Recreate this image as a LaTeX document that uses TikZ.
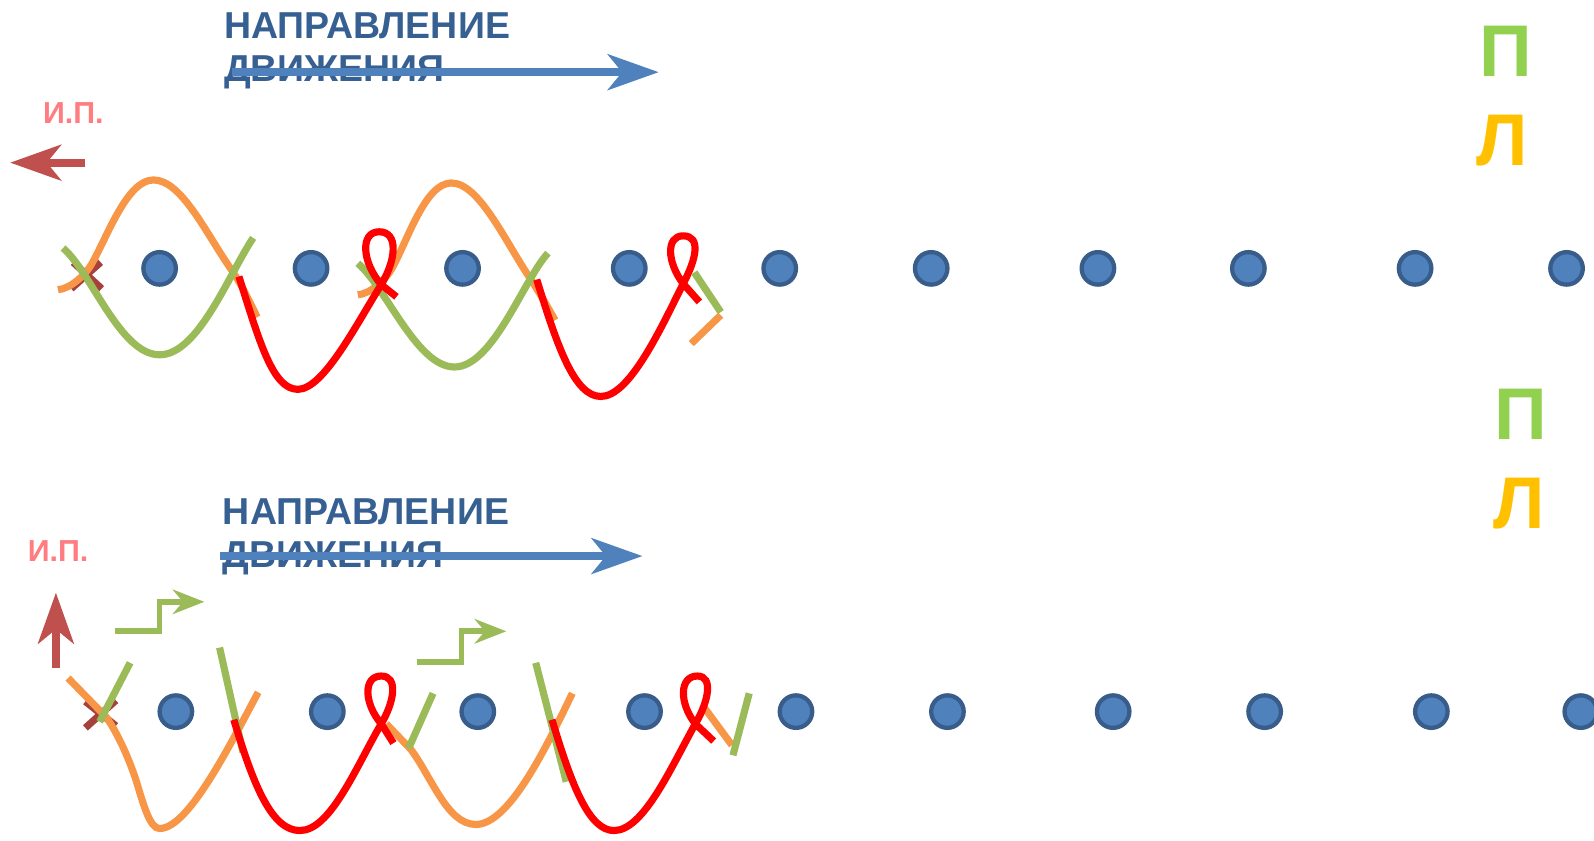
\documentclass[tikz,border=0pt]{standalone}
\usepackage{fontspec}
\setmainfont{Liberation Sans}
\usetikzlibrary{arrows.meta}

\definecolor{dotfill}{HTML}{4F81BD}
\definecolor{dotline}{HTML}{385D8A}
\definecolor{wavor}{HTML}{F79646}
\definecolor{wavgr}{HTML}{9BBB59}
\definecolor{wavred}{HTML}{FF0000}
\definecolor{dirblue}{HTML}{376092}
\definecolor{arrblue}{HTML}{4F81BD}
\definecolor{ippink}{HTML}{FF7C80}
\definecolor{arrred}{HTML}{C0504D}
\definecolor{crossred}{HTML}{A5403C}
\definecolor{letgr}{HTML}{92D050}
\definecolor{letor}{HTML}{FFC000}

\begin{document}
\begin{tikzpicture}[x=0.02cm, y=-0.02cm,
    dot/.style={circle, fill=dotfill, draw=dotline, line width=2.4pt, minimum size=0.64cm, inner sep=0pt},
    wave/.style={line width=4pt},
    dirtext/.style={anchor=north west, inner sep=0pt, align=left, text=dirblue,
      font=\fontsize{21}{24}\selectfont\bfseries},
    iptext/.style={anchor=base west, inner sep=0pt, text=ippink, font=\fontsize{17}{19}\selectfont\bfseries},
    bigletter/.style={anchor=base, inner sep=0pt, font=\fontsize{41}{44}\selectfont\bfseries},
    bigarrow/.style={line width=4.6pt, -{Stealth[length=1cm, width=0.7cm, inset=0.28cm]}},
    steparrow/.style={wavgr, line width=3.2pt, -{Stealth[length=0.62cm, width=0.48cm, inset=0.2cm]}}]
  \useasboundingbox (0,0) rectangle (1568,827);

  % direction labels and arrows
  \node[dirtext] (dirtop) at (220,12) {НАПРАВЛЕНИЕ\\ДВИЖЕНИЯ};
  \draw[bigarrow, arrblue] (228,71) -- (648,71);
  \node[dirtext] (dirbot) at (219,490) {НАПРАВЛЕНИЕ\\ДВИЖЕНИЯ};
  \draw[bigarrow, arrblue] (216,547) -- (632,547);

  % starting position
  \node[iptext] (iptop) at (42,121) {И.П.};
  \draw[bigarrow, arrred] (84,160) -- (10,160);
  \node[iptext] (ipbot) at (27,552) {И.П.};
  \draw[bigarrow, arrred] (55,657) -- (55,583);

  % letters on the right
  \node[bigletter, text=letgr] (ptop) at (1481,75) {П};
  \node[bigletter, text=letor] (ltop) at (1478,163) {Л};
  \node[bigletter, text=letgr] (pbot) at (1496,432) {П};
  \node[bigletter, text=letor] (lbot) at (1494,520) {Л};

  % rows of dots
  \foreach \x [count=\i] in {157,306,455,619,767,916,1080,1228,1392,1541}
    \node[dot] (t\i) at (\x,264) {};
  \foreach \x [count=\i] in {173,322,470,634,783,932,1095,1244,1408,1555}
    \node[dot] (b\i) at (\x,700) {};

  % upper pattern
  \draw[wave, crossred] (70,284) -- (99,258) (72,258) -- (100,284);
  \draw[wave, wavor] (57,285) .. controls (70,284) and (85,269) .. (90,260)
    .. controls (106,232) and (125,177) .. (151,177)
    .. controls (178,177) and (202,228) .. (226,263)
    .. controls (238,280) and (246,298) .. (253,312);
  \draw[wave, wavor] (352,290) .. controls (365,289) and (380,274) .. (385,265)
    .. controls (401,237) and (418,180) .. (444,180)
    .. controls (472,180) and (498,240) .. (523,276)
    .. controls (533,292) and (540,304) .. (546,315);
  \draw[wave, wavgr] (62,244) .. controls (90,268) and (118,349) .. (157,349)
    .. controls (195,349) and (225,270) .. (249,234);
  \draw[wave, wavgr] (352,259) .. controls (380,283) and (410,361) .. (447,361)
    .. controls (485,361) and (515,275) .. (539,249);
  \draw[wave, wavred] (235,272) .. controls (255,335) and (268,383) .. (293,383)
    .. controls (318,383) and (350,320) .. (375,280)
    .. controls (390,255) and (392,228) .. (373,228)
    .. controls (354,228) and (356,258) .. (375,280) -- (390,292);
  \draw[wave, wavred] (528,275) .. controls (548,340) and (565,390) .. (591,390)
    .. controls (618,390) and (647,330) .. (672,279)
    .. controls (685,255) and (690,232) .. (672,232)
    .. controls (655,232) and (656,258) .. (672,279) -- (688,297);
  \draw[wave, wavgr] (683,268) -- (709,307);
  \draw[wave, wavor] (709,310) -- (680,338);

  % lower pattern
  \draw[steparrow] (113,621) -- (157,621) -- (157,592) -- (201,592);
  \draw[steparrow] (410,651) -- (454,651) -- (454,621) -- (498,621);
  \draw[wave, crossred] (84,716) -- (114,689) (84,690) -- (114,714);
  \draw[wave, wavor] (67,667) -- (105,706)
    .. controls (118,725) and (128,750) .. (134,768)
    .. controls (142,795) and (148,815) .. (157,815)
    .. controls (185,815) and (225,735) .. (254,681);
  \draw[wave, wavor] (380,712) -- (404,737)
    .. controls (425,765) and (440,811) .. (468,811)
    .. controls (500,811) and (535,740) .. (563,682);
  \draw[wave, wavor] (692,695) -- (720,733);
  \draw[wave, wavgr] (128,652) -- (98,710);
  \draw[wave, wavgr] (216,637) -- (239,740);
  \draw[wave, wavgr] (426,682) -- (402,736);
  \draw[wave, wavgr] (527,652) -- (557,769);
  \draw[wave, wavgr] (737,682) -- (721,743);
  \draw[wave, wavred] (230,708) .. controls (250,775) and (268,817) .. (295,817)
    .. controls (325,817) and (350,755) .. (375,712)
    .. controls (388,690) and (392,665) .. (375,665)
    .. controls (357,665) and (358,692) .. (375,712) -- (387,731);
  \draw[wave, wavred] (543,708) .. controls (563,775) and (580,817) .. (604,817)
    .. controls (633,817) and (660,755) .. (684,712)
    .. controls (697,690) and (702,665) .. (686,665)
    .. controls (668,665) and (668,692) .. (684,712) -- (702,729);
\end{tikzpicture}
\end{document}
